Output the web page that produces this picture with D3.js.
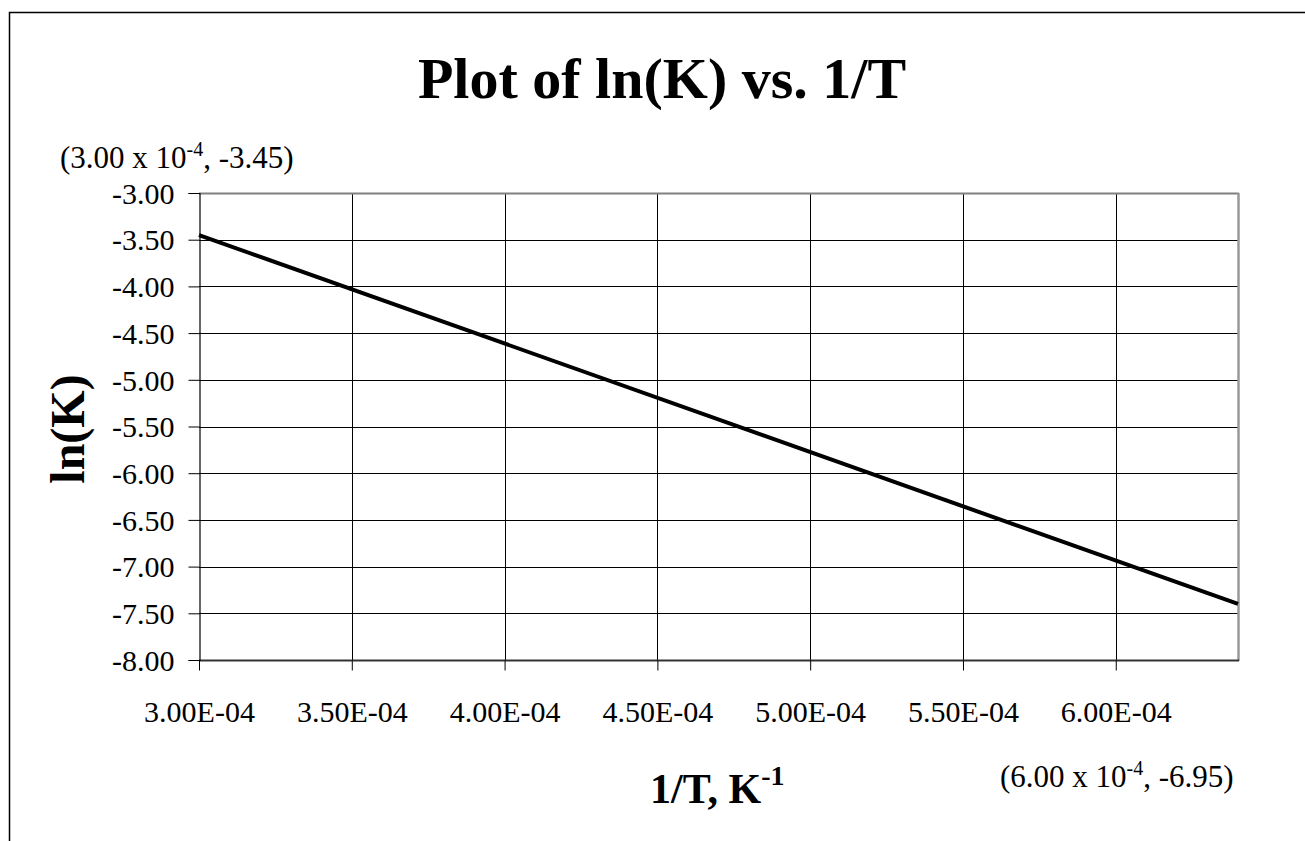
<!DOCTYPE html>
<html>
<head>
<meta charset="utf-8">
<script src="https://cdn.jsdelivr.net/npm/d3@7"></script>
<style>
  body { margin: 0; background: #fff; }
  text { font-family: "Liberation Serif", "Times New Roman", serif; fill: #000; }
</style>
</head>
<body>
<script>
// data
var invT = [3.00e-4, 6.40e-4];
var lnK = [-3.45, -7.40];
var xTicks = [3.0e-4, 3.5e-4, 4.0e-4, 4.5e-4, 5.0e-4, 5.5e-4, 6.0e-4];
var yTicks = [-3.0, -3.5, -4.0, -4.5, -5.0, -5.5, -6.0, -6.5, -7.0, -7.5, -8.0];
var xDomain = [3.0e-4, 6.4e-4];
var yDomain = [-8, -3];

var width = 1305, height = 841;
var pLeft = 199, pRight = 1238, pTop = 193, pBottom = 660;

var svg = d3.select("body").append("svg")
  .attr("width", width)
  .attr("height", height);

// outer chart frame (runs off the page on the right and bottom)
svg.append("rect")
  .attr("x", 9.5).attr("y", 12.5)
  .attr("width", 1400).attr("height", 900)
  .attr("fill", "none").attr("stroke", "#000").attr("stroke-width", 1.5);

var x = d3.scaleLinear().domain(xDomain).range([pLeft, pRight]);
var y = d3.scaleLinear().domain(yDomain).range([pBottom, pTop]);

// gridlines
svg.append("g").selectAll("line").data(yTicks.filter(function(d){ return d > -8 && d < -3; }))
  .enter().append("line")
  .attr("x1", pLeft).attr("x2", pRight)
  .attr("y1", function(d){ return Math.round(y(d)) + 0.5; })
  .attr("y2", function(d){ return Math.round(y(d)) + 0.5; })
  .attr("stroke", "#000").attr("stroke-width", 1);

svg.append("g").selectAll("line").data(xTicks.slice(1))
  .enter().append("line")
  .attr("y1", pTop).attr("y2", pBottom)
  .attr("x1", function(d){ return Math.round(x(d)) + 0.5; })
  .attr("x2", function(d){ return Math.round(x(d)) + 0.5; })
  .attr("stroke", "#000").attr("stroke-width", 1);

// plot area border
svg.append("line").attr("x1", pLeft).attr("x2", pRight + 1).attr("y1", pTop + 0.5).attr("y2", pTop + 0.5)
  .attr("stroke", "#808080").attr("stroke-width", 2);
svg.append("line").attr("x1", pRight + 0.5).attr("x2", pRight + 0.5).attr("y1", pTop).attr("y2", pBottom + 1)
  .attr("stroke", "#999").attr("stroke-width", 2.5);
svg.append("line").attr("x1", pLeft).attr("x2", pRight + 1).attr("y1", pBottom + 0.5).attr("y2", pBottom + 0.5)
  .attr("stroke", "#333").attr("stroke-width", 2);

// axes
var yAxis = d3.axisLeft(y).tickValues(yTicks).tickSize(11).tickPadding(14)
  .tickFormat(function(d){ return d.toFixed(2); });
var gy = svg.append("g").attr("transform", "translate(" + (pLeft + 0.5) + ",0)").call(yAxis);
gy.select(".domain").attr("stroke", "#000").attr("stroke-width", 1.2);
gy.selectAll(".tick line").attr("stroke", "#000");
gy.selectAll("text").style("font-size", "30px").attr("dy", "0.34em");

var fmtX = function(d){ return (d * 1e4).toFixed(2) + "E-04"; };
var xAxis = d3.axisBottom(x).tickValues(xTicks).tickSize(10).tickPadding(30)
  .tickFormat(fmtX);
var gx = svg.append("g").attr("transform", "translate(0," + (pBottom + 0.5) + ")").call(xAxis);
gx.select(".domain").remove();
gx.selectAll(".tick line").attr("stroke", "#000");
gx.selectAll("text").style("font-size", "30px");

// data line
var pts = invT.map(function(d, i){ return [d, lnK[i]]; });
svg.append("path")
  .datum(pts)
  .attr("fill", "none")
  .attr("stroke", "#000")
  .attr("stroke-width", 4)
  .attr("d", d3.line().x(function(d){ return x(d[0]); }).y(function(d){ return y(d[1]); }));

// title
svg.append("text")
  .attr("x", 662).attr("y", 98)
  .attr("text-anchor", "middle")
  .style("font-size", "58px").style("font-weight", "bold")
  .text("Plot of ln(K) vs. 1/T");

// y axis title
svg.append("text")
  .attr("transform", "translate(84,429) rotate(-90)")
  .attr("text-anchor", "middle")
  .style("font-size", "48px").style("font-weight", "bold")
  .text("ln(K)");

// x axis title
var xt = svg.append("text")
  .attr("x", 650).attr("y", 803)
  .style("font-size", "42px").style("font-weight", "bold");
xt.append("tspan").text("1/T, K");
xt.append("tspan").attr("dy", -18).style("font-size", "28px").text("-1");

// point annotations
var annot = function(xp, yp, a, b){
  var t = svg.append("text").attr("x", xp).attr("y", yp).style("font-size", "31px");
  t.append("tspan").text("(" + a + " x 10");
  t.append("tspan").attr("dy", -12).style("font-size", "20px").text("-4");
  t.append("tspan").attr("dy", 12).text(", " + b + ")");
};
annot(60, 168, (invT[0] * 1e4).toFixed(2), lnK[0].toFixed(2));
annot(1000, 787, (xTicks[6] * 1e4).toFixed(2), "-6.95");
</script>
</body>
</html>
